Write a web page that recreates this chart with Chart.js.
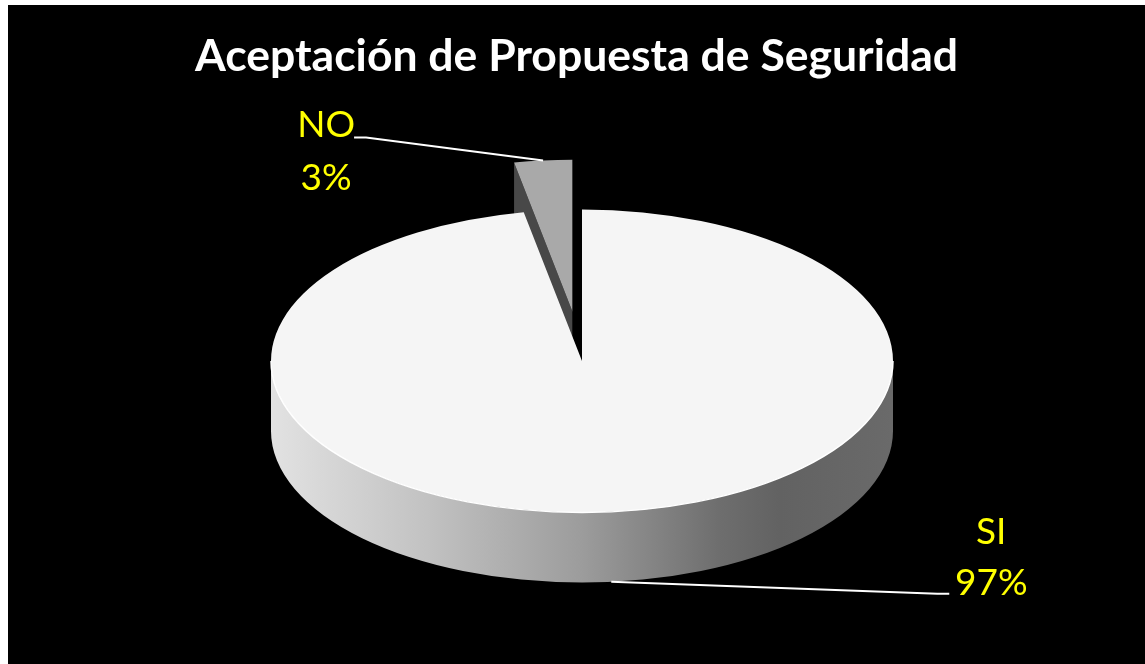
<!DOCTYPE html>
<html>
<head>
<meta charset="utf-8">
<title>Aceptación de Propuesta de Seguridad</title>
<script src="https://cdn.jsdelivr.net/npm/chart.js@4.4.1/dist/chart.umd.min.js"></script>
<style>
    body { margin: 0; background: #fff; }
    #wrap { position: absolute; left: 8px; top: 5px; width: 1137px; height: 659px; background: #000; }
</style>
</head>
<body>
<div id="wrap"><canvas id="pie-chart" width="1137" height="659"></canvas></div>
<script>
const $ = document.querySelector.bind(document)

const chartTitle = "Aceptación de Propuesta de Seguridad"
const labels = ["SI", "NO"]
const values = [97, 3]
const sliceColors = ["#f5f5f5", "#a9a9a9"]
const edgeColors = ["#8c8c8c", "#484848"]
const explode = [0, 0.33]

// how the tilted disc sits on the canvas
const center = { x: 574, y: 356 }
const radiusX = 311
const radiusY = 151.5
const depth = 70

// label boxes, relative to the rim point the leader line starts from
const labelPlacement = [
    { textX: 380, lineX: 338, lineY: 12, firstY: -38, secondY: 13 },
    { textX: -217, lineX: -189, lineY: -23, firstY: -23, secondY: 30 },
]

function sliceOrigin(arc, i) {
    const mid = (arc.startAngle + arc.endAngle) / 2
    return {
        mid,
        x: center.x + Math.cos(mid) * explode[i] * radiusX,
        y: center.y + Math.sin(mid) * explode[i] * radiusY,
    }
}

// parts of [s, e] that face the viewer (angles 0..PI)
function frontRanges(s, e) {
    const out = []
    for (let k = -1; k <= 2; k++) {
        const a = Math.max(s, k * 2 * Math.PI)
        const b = Math.min(e, k * 2 * Math.PI + Math.PI)
        if (b > a) out.push([a, b])
    }
    return out
}

function drawWalls(ctx, arc, i, o) {
    const rim = (t) => ({ x: o.x + Math.cos(t) * radiusX, y: o.y + Math.sin(t) * radiusY })

    // flat sides of a cut slice
    const full = arc.endAngle - arc.startAngle >= 2 * Math.PI - 1e-6
    if (!full) {
        const sides = [
            { t: arc.startAngle, show: Math.cos(arc.startAngle) < -1e-3 },
            { t: arc.endAngle, show: Math.cos(arc.endAngle) > 1e-3 },
        ]
        sides.filter(s => s.show).forEach(s => {
            const p = rim(s.t)
            ctx.beginPath()
            ctx.moveTo(o.x, o.y)
            ctx.lineTo(p.x, p.y)
            ctx.lineTo(p.x, p.y + depth)
            ctx.lineTo(o.x, o.y + depth)
            ctx.closePath()
            ctx.fillStyle = edgeColors[i]
            ctx.fill()
        })
    }

    // curved outer wall
    frontRanges(arc.startAngle, arc.endAngle).forEach(([a, b]) => {
        const grad = ctx.createLinearGradient(o.x - radiusX, 0, o.x + radiusX, 0)
        if (i === 0) {
            grad.addColorStop(0, "#e2e2e2")
            grad.addColorStop(0.25, "#c2c2c2")
            grad.addColorStop(0.5, "#9c9c9c")
            grad.addColorStop(0.72, "#6e6e6e")
            grad.addColorStop(0.82, "#626262")
            grad.addColorStop(1, "#6a6a6a")
        } else {
            grad.addColorStop(0, "#8a8a8a")
            grad.addColorStop(1, "#404040")
        }
        const p = rim(b)
        ctx.beginPath()
        ctx.ellipse(o.x, o.y, radiusX, radiusY, 0, a, b)
        ctx.lineTo(p.x, p.y + depth)
        ctx.ellipse(o.x, o.y + depth, radiusX, radiusY, 0, b, a, true)
        ctx.closePath()
        ctx.fillStyle = grad
        ctx.fill()
    })
}

const pie3d = {
    id: "pie3d",
    beforeDatasetsDraw(chart) {
        const ctx = chart.ctx
        const arcs = chart.getDatasetMeta(0).data

        // back slices first
        const order = arcs.map((a, i) => i)
            .sort((p, q) => Math.sin(sliceOrigin(arcs[p], p).mid) - Math.sin(sliceOrigin(arcs[q], q).mid))

        order.forEach(i => {
            const arc = arcs[i]
            const o = sliceOrigin(arc, i)
            drawWalls(ctx, arc, i, o)

            ctx.save()
            ctx.translate(o.x, o.y)
            ctx.scale(radiusX / arc.outerRadius, radiusY / arc.outerRadius)
            ctx.translate(-arc.x, -arc.y)
            arc.draw(ctx)
            ctx.restore()

            frontRanges(arc.startAngle, arc.endAngle).forEach(([a, b]) => {
                ctx.beginPath()
                ctx.ellipse(o.x, o.y, radiusX, radiusY, 0, a, b)
                ctx.strokeStyle = "#ffffff"
                ctx.lineWidth = 1.5
                ctx.stroke()
            })
        })
        return false
    },
    afterDraw(chart) {
        const ctx = chart.ctx
        const arcs = chart.getDatasetMeta(0).data
        const total = values.reduce((s, v) => s + v, 0)

        arcs.forEach((arc, i) => {
            const o = sliceOrigin(arc, i)
            const front = Math.sin(o.mid) > 0
            const anchor = {
                x: o.x + Math.cos(o.mid) * radiusX,
                y: o.y + Math.sin(o.mid) * radiusY + (front ? depth : 0),
            }
            const p = labelPlacement[i]
            const end = { x: anchor.x + p.lineX, y: anchor.y + p.lineY }
            const knee = { x: end.x + (p.lineX > 0 ? -12 : 12), y: end.y }

            ctx.save()
            ctx.beginPath()
            ctx.moveTo(anchor.x, anchor.y)
            ctx.lineTo(knee.x, knee.y)
            ctx.lineTo(end.x, end.y)
            ctx.strokeStyle = "#ffffff"
            ctx.lineWidth = 2
            ctx.stroke()

            ctx.fillStyle = "#ffff00"
            ctx.font = "37px Lato"
            ctx.textAlign = "center"
            ctx.textBaseline = "alphabetic"
            ctx.fillText(labels[i], anchor.x + p.textX, anchor.y + p.firstY)
            ctx.fillText(`${Math.round(values[i] / total * 100)}%`, anchor.x + p.textX, anchor.y + p.secondY)
            ctx.restore()
        })
    }
}

new Chart($("#pie-chart"), {
    type: "pie",
    data: {
        labels: labels,
        datasets: [{
            data: values,
            backgroundColor: sliceColors,
            borderWidth: 0,
        }]
    },
    options: {
        responsive: false,
        animation: false,
        events: [],
        plugins: {
            legend: { display: false },
            tooltip: { enabled: false },
            title: {
                display: true,
                text: chartTitle,
                color: "#ffffff",
                font: { family: "Lato", size: 44.5, weight: "bold" },
                padding: { top: 25, bottom: 10 },
            }
        }
    },
    plugins: [pie3d]
});
</script>
</body>
</html>
